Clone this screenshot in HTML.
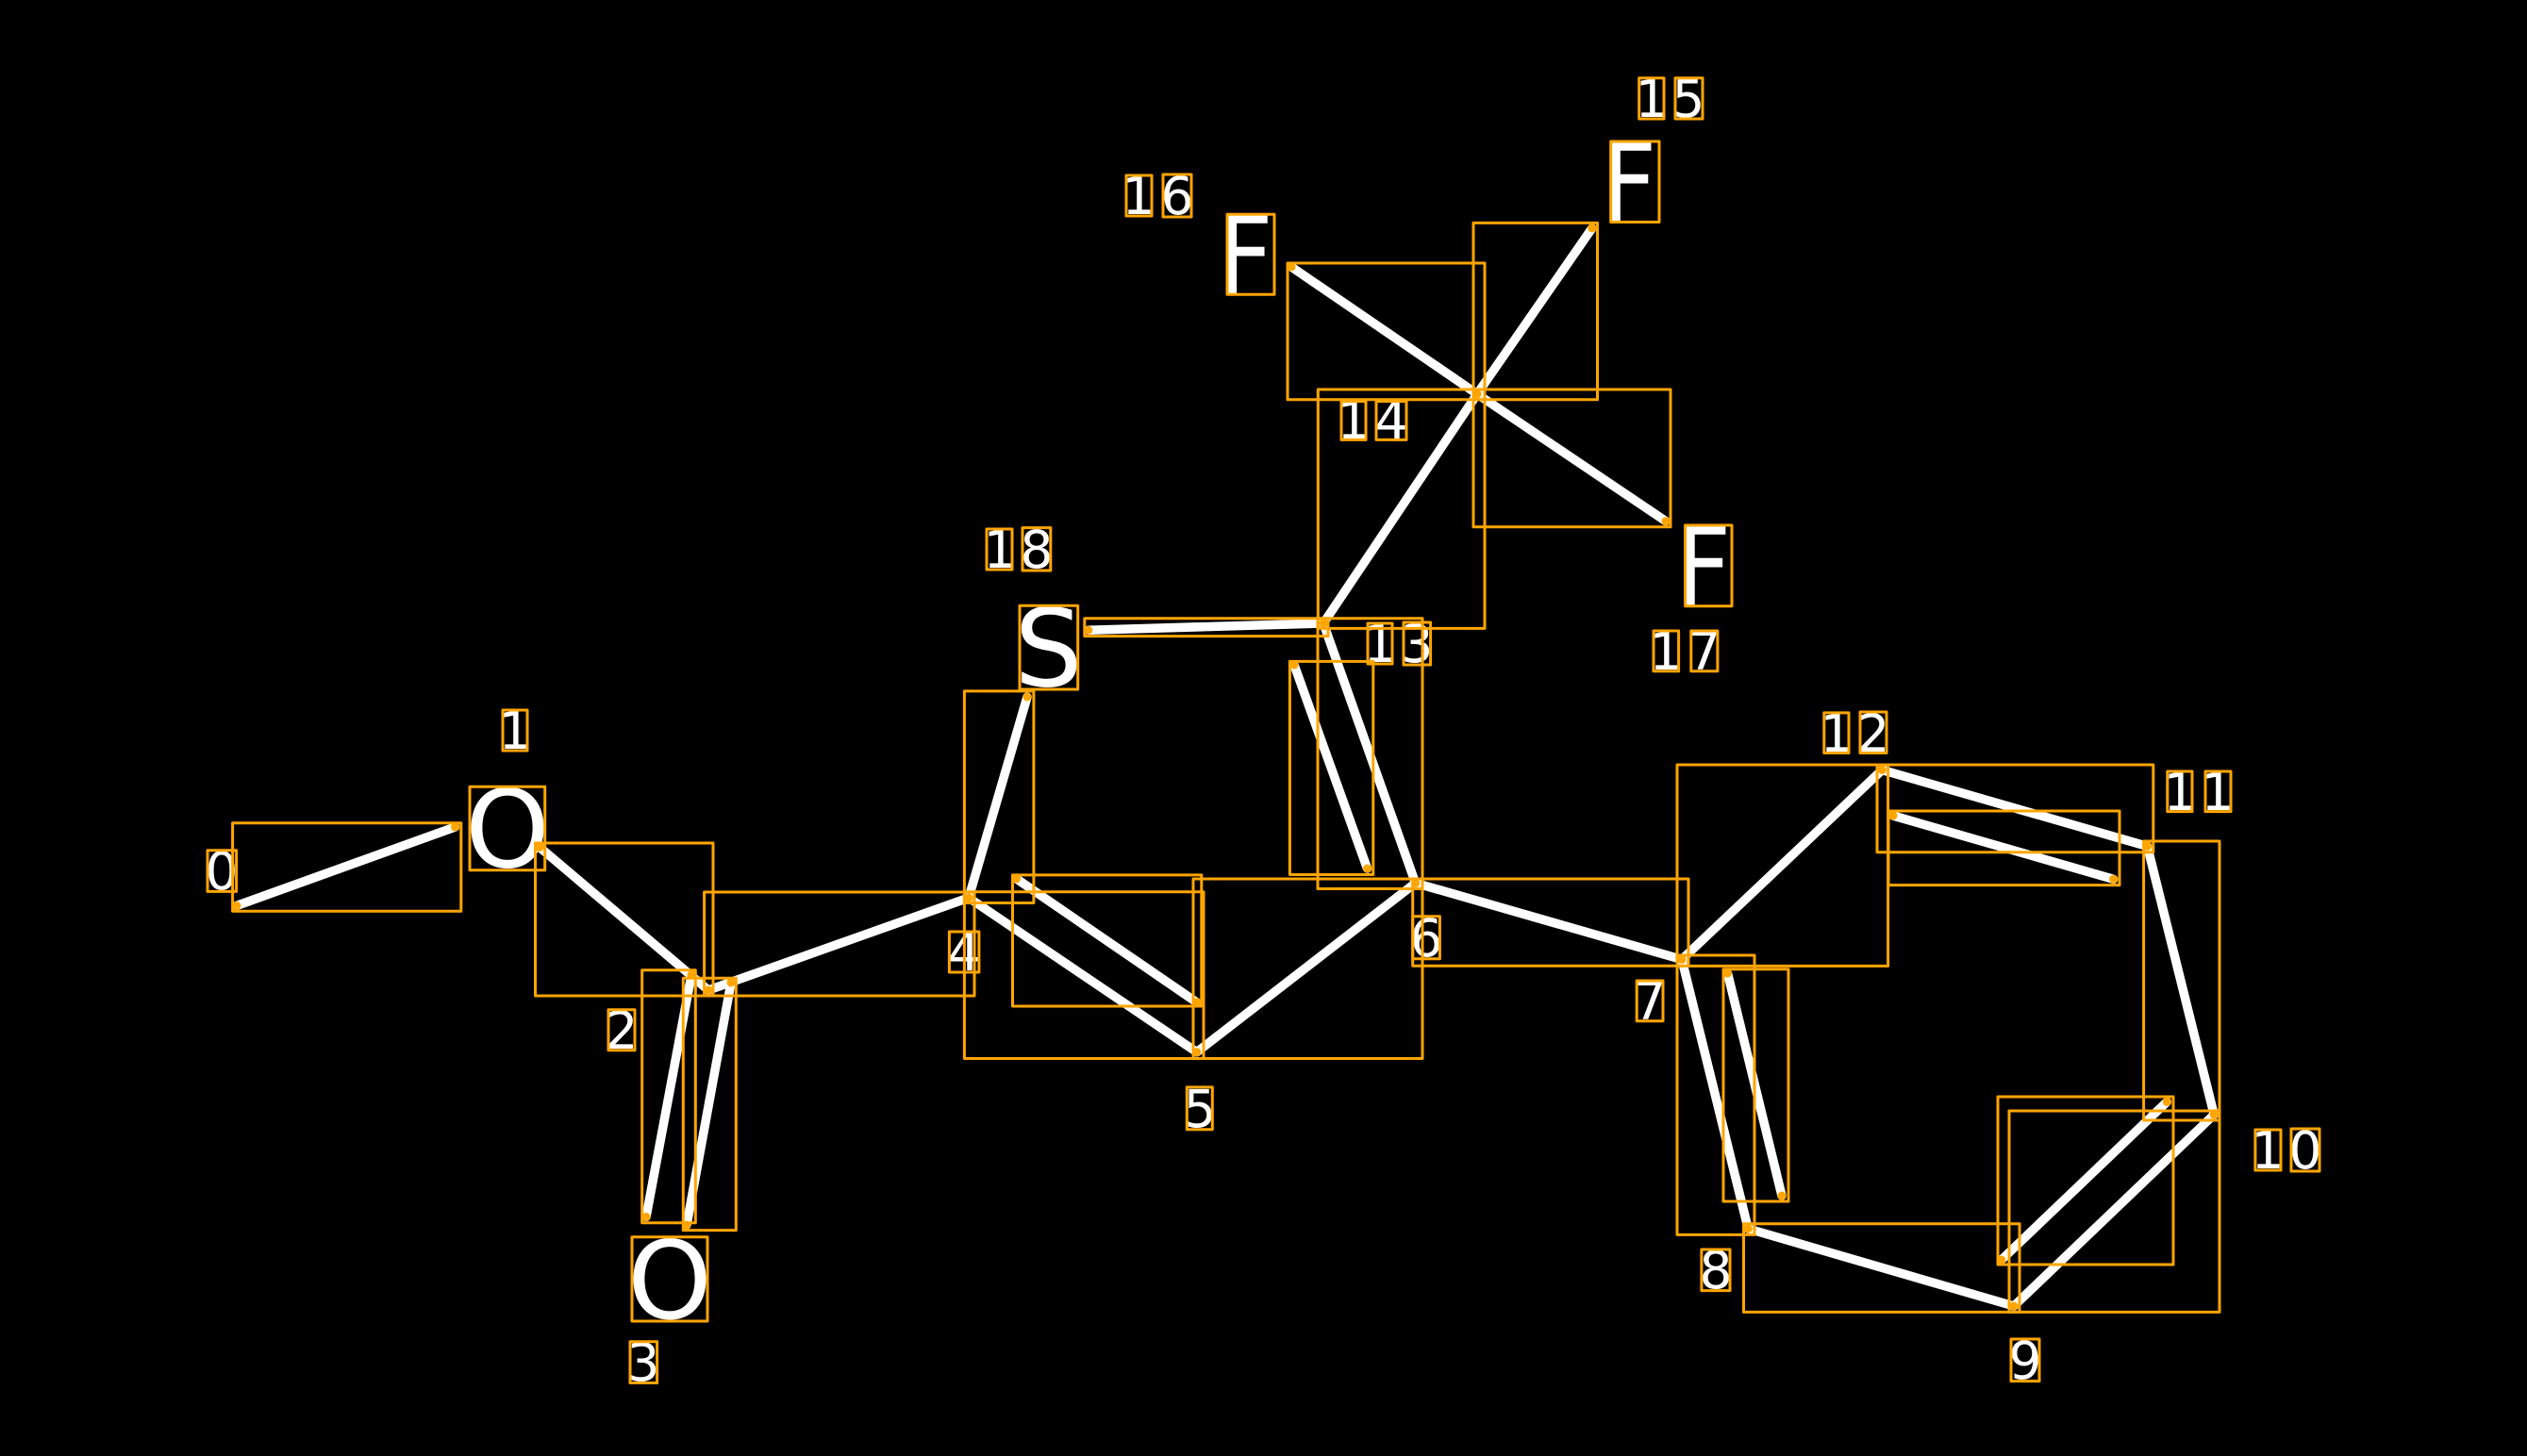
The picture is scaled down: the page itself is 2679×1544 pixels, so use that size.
<!DOCTYPE html>
<html>
<head>
<meta charset="utf-8">
<style>
html,body{margin:0;padding:0;background:#000;width:2679px;height:1544px;overflow:hidden}
svg{display:block}
text{font-family:"DejaVu Sans","Liberation Sans",sans-serif;fill:#fff;text-anchor:middle}
.d{font-size:55px}
.a{font-size:114px}
.f{font-size:116.6px;text-anchor:start}
</style>
</head>
<body>
<svg width="2679" height="1544" viewBox="0 0 2679 1544" xmlns="http://www.w3.org/2000/svg">
<rect width="2679" height="1544" fill="#000"/>
<g stroke="#fff" stroke-width="9.5" stroke-linecap="round" fill="none">
<line x1="251" y1="960.4" x2="482.5" y2="877"/>
<line x1="572" y1="898.4" x2="751" y2="1050"/>
<line x1="751" y1="1050" x2="1027" y2="952"/>
<line x1="733" y1="1034" x2="685" y2="1290.5"/>
<line x1="775" y1="1042" x2="728" y2="1299"/>
<line x1="1027" y1="952" x2="1089" y2="739"/>
<line x1="1027" y1="952" x2="1268.7" y2="1115.7"/>
<line x1="1077.5" y1="931.8" x2="1268.7" y2="1062.9"/>
<line x1="1268.7" y1="1115.7" x2="1500.6" y2="936.4"/>
<line x1="1500.6" y1="936.4" x2="1403" y2="661"/>
<line x1="1372" y1="705" x2="1449.5" y2="921"/>
<line x1="1403" y1="661" x2="1153.8" y2="668.2"/>
<line x1="1403" y1="661" x2="1566" y2="417.8"/>
<line x1="1566" y1="417.8" x2="1687.8" y2="242"/>
<line x1="1566" y1="417.8" x2="1369" y2="283"/>
<line x1="1566" y1="417.8" x2="1766" y2="552.7"/>
<line x1="1500.6" y1="936.4" x2="1783" y2="1017.5"/>
<line x1="1783" y1="1017.5" x2="1995.3" y2="816.5"/>
<line x1="1995.3" y1="816.5" x2="2276.5" y2="897.4"/>
<line x1="2007" y1="865" x2="2240.6" y2="932.3"/>
<line x1="2276.5" y1="897.4" x2="2347.2" y2="1182"/>
<line x1="2347.2" y1="1182" x2="2135" y2="1385"/>
<line x1="2297.3" y1="1168.4" x2="2121.8" y2="1336"/>
<line x1="2135" y1="1385" x2="1853.3" y2="1303"/>
<line x1="1853.3" y1="1303" x2="1783" y2="1017.5"/>
<line x1="1831.5" y1="1032" x2="1889" y2="1268"/>
</g>
<text class="a" x="538" y="919.5">O</text>
<text class="a" x="710" y="1398">O</text>
<text class="a" x="1111.6" y="727.5">S</text>
<text class="f" transform="translate(1291,312) scale(.874,1)">F</text>
<text class="f" transform="translate(1697.7,235) scale(.874,1)">F</text>
<text class="f" transform="translate(1776.6,642) scale(.874,1)">F</text>
<text class="d" x="235" y="943">0</text>
<text class="d" x="546" y="794">1</text>
<text class="d" x="659" y="1112">2</text>
<text class="d" x="682" y="1464">3</text>
<text class="d" x="1022" y="1029">4</text>
<text class="d" x="1272" y="1195">5</text>
<text class="d" x="1512" y="1014">6</text>
<text class="d" x="1749" y="1081">7</text>
<text class="d" x="1819" y="1366">8</text>
<text class="d" x="2147" y="1462">9</text>
<text class="d" x="2404" y="1239">1</text>
<text class="d" x="2444" y="1239">0</text>
<text class="d" x="2311" y="859">1</text>
<text class="d" x="2351" y="859">1</text>
<text class="d" x="1947" y="797">1</text>
<text class="d" x="1986" y="797">2</text>
<text class="d" x="1463" y="702">1</text>
<text class="d" x="1502" y="702">3</text>
<text class="d" x="1435" y="465">1</text>
<text class="d" x="1475" y="465">4</text>
<text class="d" x="1751" y="124">1</text>
<text class="d" x="1790" y="124">5</text>
<text class="d" x="1207" y="227">1</text>
<text class="d" x="1248" y="227">6</text>
<text class="d" x="1766" y="710">1</text>
<text class="d" x="1807" y="710">7</text>
<text class="d" x="1060" y="602">1</text>
<text class="d" x="1099" y="602">8</text>
<g fill="none" stroke="#ffa500" stroke-width="3" stroke-linejoin="round">
<rect x="246.6" y="872.7" width="242.2" height="93.5"/>
<rect x="567.5" y="894" width="188.5" height="162"/>
<rect x="746.6" y="946" width="286.4" height="110"/>
<rect x="680.7" y="1028.8" width="56.6" height="268"/>
<rect x="724.3" y="1037.3" width="56" height="267.3"/>
<rect x="1022.4" y="732.9" width="73.5" height="224.6"/>
<rect x="1022.4" y="945.7" width="253.6" height="176.8"/>
<rect x="1073.5" y="927.9" width="200.3" height="139.1"/>
<rect x="1265" y="932" width="243" height="190.5"/>
<rect x="1397" y="655.7" width="111" height="286.8"/>
<rect x="1367.4" y="701.4" width="88.4" height="226.1"/>
<rect x="1149.8" y="655.7" width="258.2" height="18.9"/>
<rect x="1397.3" y="413" width="176.7" height="253.4"/>
<rect x="1562" y="236.4" width="131.5" height="187.3"/>
<rect x="1365" y="279" width="209" height="144.7"/>
<rect x="1562" y="413" width="209" height="145.7"/>
<rect x="1497.7" y="932" width="292.3" height="92.3"/>
<rect x="1778" y="811" width="223.6" height="213.4"/>
<rect x="1990" y="811" width="292.8" height="92.7"/>
<rect x="2002" y="860" width="245" height="78.6"/>
<rect x="2272.6" y="892" width="80.4" height="296"/>
<rect x="2130" y="1178" width="223" height="213.4"/>
<rect x="2118" y="1163" width="186" height="178"/>
<rect x="1848.5" y="1297.8" width="292.5" height="93.6"/>
<rect x="1778" y="1013" width="82" height="296.4"/>
<rect x="1827" y="1027.8" width="69" height="246.2"/>
<rect x="498" y="834.3" width="79.7" height="88.4"/>
<rect x="670" y="1311.8" width="80" height="89.2"/>
<rect x="1081" y="642.3" width="61.7" height="88.7"/>
<rect x="1301" y="227.3" width="50" height="85"/>
<rect x="1707.7" y="150" width="51.3" height="85.5"/>
<rect x="1786.6" y="557" width="49.4" height="85.7"/>
<rect x="220" y="901.8" width="30.6" height="43.6"/>
<rect x="533" y="753" width="26" height="43"/>
<rect x="645" y="1070.8" width="28" height="43"/>
<rect x="668" y="1422.8" width="28.6" height="43.7"/>
<rect x="1006.4" y="988" width="31.5" height="43"/>
<rect x="1258.3" y="1152.9" width="27" height="44.8"/>
<rect x="1497.7" y="971.8" width="28.7" height="45"/>
<rect x="1735.2" y="1040" width="27.8" height="42.8"/>
<rect x="1803.9" y="1325" width="30.1" height="43.6"/>
<rect x="2132" y="1420" width="30" height="44.6"/>
<rect x="2390.9" y="1198" width="27.1" height="43"/>
<rect x="2429" y="1197" width="30" height="45"/>
<rect x="2297.8" y="818" width="26.2" height="42.6"/>
<rect x="2338" y="818" width="27" height="42.6"/>
<rect x="1933.8" y="755.9" width="26.2" height="42.6"/>
<rect x="1972" y="755" width="28" height="43.5"/>
<rect x="1450" y="661" width="26" height="43"/>
<rect x="1488" y="660" width="28.6" height="45"/>
<rect x="1422" y="425.6" width="26" height="40.8"/>
<rect x="1459" y="425.6" width="32" height="40.8"/>
<rect x="1737.7" y="82.7" width="26.3" height="43.3"/>
<rect x="1776" y="82.7" width="29" height="43.3"/>
<rect x="1194" y="186" width="27" height="43"/>
<rect x="1233" y="185" width="30" height="45"/>
<rect x="1753" y="669" width="26.6" height="42.8"/>
<rect x="1792.8" y="669" width="28.1" height="42.8"/>
<rect x="1046" y="561" width="27" height="43"/>
<rect x="1084" y="559.6" width="29.8" height="45.4"/>
</g>
<g fill="#ffa500">
<circle cx="251" cy="960.4" r="4.5"/>
<circle cx="482.5" cy="877" r="4.5"/>
<circle cx="572" cy="898.4" r="4.5"/>
<circle cx="751" cy="1050" r="4.5"/>
<circle cx="733" cy="1034" r="4.5"/>
<circle cx="685" cy="1290.5" r="4.5"/>
<circle cx="775" cy="1042" r="4.5"/>
<circle cx="728" cy="1299" r="4.5"/>
<circle cx="1027" cy="952" r="4.5"/>
<circle cx="1089" cy="739" r="4.5"/>
<circle cx="1268.7" cy="1115.7" r="4.5"/>
<circle cx="1077.5" cy="931.8" r="4.5"/>
<circle cx="1268.7" cy="1062.9" r="4.5"/>
<circle cx="1500.6" cy="936.4" r="4.5"/>
<circle cx="1403" cy="661" r="4.5"/>
<circle cx="1372" cy="705" r="4.5"/>
<circle cx="1449.5" cy="921" r="4.5"/>
<circle cx="1153.8" cy="668.2" r="4.5"/>
<circle cx="1566" cy="417.8" r="4.5"/>
<circle cx="1687.8" cy="242" r="4.5"/>
<circle cx="1369" cy="283" r="4.5"/>
<circle cx="1766" cy="552.7" r="4.5"/>
<circle cx="1783" cy="1017.5" r="4.5"/>
<circle cx="1995.3" cy="816.5" r="4.5"/>
<circle cx="2276.5" cy="897.4" r="4.5"/>
<circle cx="2007" cy="865" r="4.5"/>
<circle cx="2240.6" cy="932.3" r="4.5"/>
<circle cx="2347.2" cy="1182" r="4.5"/>
<circle cx="2135" cy="1385" r="4.5"/>
<circle cx="2297.3" cy="1168.4" r="4.5"/>
<circle cx="2121.8" cy="1336" r="4.5"/>
<circle cx="1853.3" cy="1303" r="4.5"/>
<circle cx="1831.5" cy="1032" r="4.5"/>
<circle cx="1889" cy="1268" r="4.5"/>
</g>
</svg>
</body>
</html>
